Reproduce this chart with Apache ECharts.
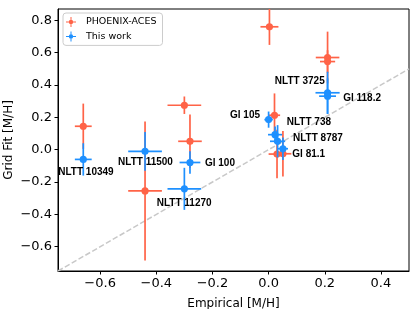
<!DOCTYPE html>
<html>
<head>
<meta charset="utf-8">
<script src="https://cdn.jsdelivr.net/npm/echarts@6/dist/echarts.min.js"></script>
<style>html,body{margin:0;padding:0;background:#fff}#c{width:416px;height:309px}</style>
</head>
<body>
<div id="c"></div>
<script>
// ---- data ----
const stars = ['NLTT 10349','NLTT 11500','Gl 100','NLTT 11270','Gl 105','NLTT 738','NLTT 8787','Gl 81.1','NLTT 3725','Gl 118.2'];
const empirical = [-0.66,-0.44,-0.28,-0.30,0.00,0.023,0.032,0.051,0.21,0.21];
const phoenixX = [-0.66,-0.44,-0.28,-0.30,0.003,0.021,0.030,0.051,0.21,0.21];
const thisWorkXErr = [0.03,0.06,0.037,0.06,0.015,0.025,0.027,0.018,0.043,0.03];
const phoenixXErr = [0.03,0.06,0.042,0.06,0.032,0.02,0.03,0.03,0.042,0.027];
const thisWorkFit = [-0.06,-0.01,-0.079,-0.242,0.186,0.093,0.052,0.006,0.352,0.331];
const thisWorkErr = [0.10,0.12,0.07,0.13,0.05,0.05,0.10,0.07,0.13,0.11];
const phoenixFit = [0.145,-0.255,0.052,0.275,0.76,0.213,-0.027,-0.025,0.57,0.545];
const phoenixErr = [0.14,0.43,0.165,0.054,0.112,0.135,0.15,0.14,0.16,0.07];
const xTicks = [-0.6,-0.4,-0.2,0.0,0.2,0.4];
const yTicks = [-0.6,-0.4,-0.2,0.0,0.2,0.4,0.6,0.8];
const oneToOne = [-0.75, 0.5];

// ---- label layout (pixel offsets from point) ----
const labelLayout = [
  [-25,12.7],[-27,11.3],[15,0.3],[-27.6,14.3],[-38.6,-4.6],
  [11.7,-12.4],[15.4,-3],[9.4,5.3],[-52.7,-11.6],[15.6,1.6]
];

const RED = '#FF6347', BLUE = '#1E90FF';
const fmt = v => (v < 0 ? '\u2212' : '') + Math.abs(v).toFixed(1);

function makeRender(color, withLabels) {
  return function (params, api) {
    const x = api.value(0), y = api.value(1), xe = api.value(2), ye = api.value(3);
    const c = api.coord([x, y]);
    const l = api.coord([x - xe, y]), r = api.coord([x + xe, y]);
    const t = api.coord([x, y + ye]), b = api.coord([x, y - ye]);
    const st = { stroke: color, lineWidth: 1.7 };
    const children = [
      { type: 'line', shape: { x1: l[0], y1: c[1], x2: r[0], y2: c[1] }, style: st },
      { type: 'line', shape: { x1: c[0], y1: t[1], x2: c[0], y2: b[1] }, style: st },
      { type: 'circle', shape: { cx: c[0], cy: c[1], r: 3.6 }, style: { fill: color } }
    ];
    if (withLabels) {
      const i = params.dataIndex;
      children.push({
        type: 'text', z2: 10,
        style: {
          text: stars[i], x: c[0] + labelLayout[i][0], y: c[1] + labelLayout[i][1],
          fill: '#000', font: 'bold 10px "Liberation Sans", Arial, sans-serif',
          align: 'left', verticalAlign: 'middle'
        }
      });
    }
    return { type: 'group', children };
  };
}

const iconPath = 'path://M0,9H7.2A2.9,2.9 0 0 1 9,7.2V0H11V7.2A2.9,2.9 0 0 1 12.8,9H20V11H12.8A2.9,2.9 0 0 1 11,12.8V20H9V12.8A2.9,2.9 0 0 1 7.2,11H0Z M10,5.6A4.4,4.4 0 1 1 9.99,5.6Z';

const chart = echarts.init(document.getElementById('c'), null, { renderer: 'canvas' });
chart.setOption({
  animation: false,
  textStyle: { fontFamily: '"DejaVu Sans", sans-serif' },
  grid: { left: 58, top: 9, width: 351, height: 262, containLabel: false, outerBoundsMode: 'none', show: true, borderColor: '#000', borderWidth: 1, backgroundColor: 'transparent' },
  legend: {
    left: 63, top: 13, orient: 'vertical',
    padding: [4, 6, 4, 3],
    itemWidth: 20, itemHeight: 10, itemGap: 4.4, itemTextGap: 8,
    backgroundColor: 'rgba(255,255,255,0.8)', borderColor: '#cccccc', borderWidth: 1, borderRadius: 3,
    textStyle: { fontFamily: '"DejaVu Sans", sans-serif', fontSize: 9.5, color: '#000' },
    data: [
      { name: 'PHOENIX-ACES', icon: iconPath },
      { name: 'This work', icon: iconPath }
    ]
  },
  xAxis: {
    type: 'value', min: -0.75, max: 0.5,
    name: 'Empirical [M/H]', nameLocation: 'middle', nameGap: 27, nameMoveOverlap: false,
    nameTextStyle: { fontSize: 12, color: '#000', fontFamily: '"DejaVu Sans", sans-serif' },
    axisLine: { show: true, onZero: false, lineStyle: { color: '#000', width: 1 } },
    axisTick: { show: true, inside: false, length: 3.5, lineStyle: { color: '#000' }, customValues: xTicks },
    axisLabel: { customValues: xTicks, formatter: fmt, fontSize: 13, color: '#000', margin: 6 },
    splitLine: { show: false }
  },
  yAxis: {
    type: 'value', min: -0.75, max: 0.87,
    name: 'Grid Fit [M/H]', nameLocation: 'middle', nameGap: 43, nameMoveOverlap: false,
    nameTextStyle: { fontSize: 12, color: '#000', fontFamily: '"DejaVu Sans", sans-serif' },
    axisLine: { show: true, onZero: false, lineStyle: { color: '#000', width: 1 } },
    axisTick: { show: true, inside: false, length: 3.5, lineStyle: { color: '#000' }, customValues: yTicks },
    axisLabel: { customValues: yTicks, formatter: fmt, fontSize: 13, color: '#000', margin: 6 },
    splitLine: { show: false }
  },
  series: [
    {
      type: 'line', silent: true, symbol: 'none', z: 1,
      data: oneToOne.map(v => [v, v]),
      lineStyle: { color: '#c8c8c8', width: 1.5, type: [5.5, 2.4] }
    },
    {
      name: 'PHOENIX-ACES', type: 'custom', clip: true, z: 2,
      itemStyle: { color: RED },
      renderItem: makeRender(RED, false),
      data: phoenixX.map((x, i) => [x, phoenixFit[i], phoenixXErr[i], phoenixErr[i]])
    },
    {
      name: 'This work', type: 'custom', clip: true, z: 3,
      itemStyle: { color: BLUE },
      renderItem: makeRender(BLUE, true),
      data: empirical.map((x, i) => [x, thisWorkFit[i], thisWorkXErr[i], thisWorkErr[i]])
    }
  ]
});
</script>
</body>
</html>
